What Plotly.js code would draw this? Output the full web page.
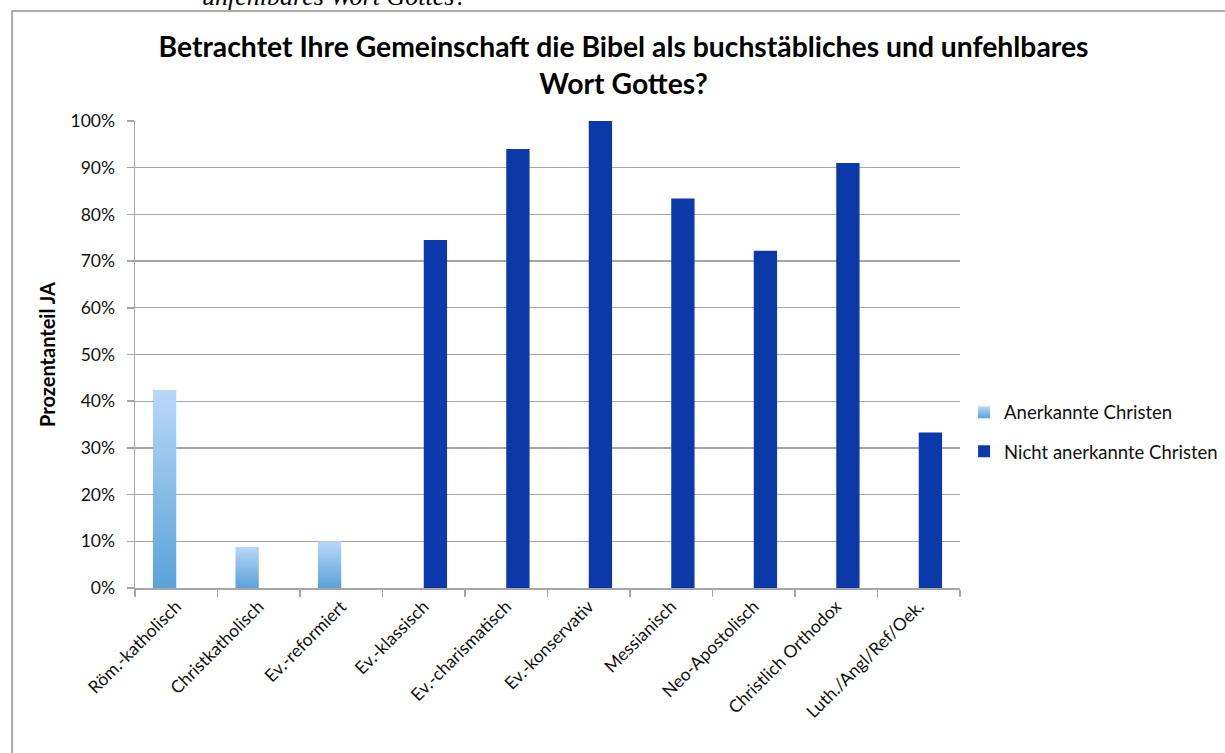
<!DOCTYPE html>
<html>
<head>
<meta charset="utf-8">
<script src="https://cdn.plot.ly/plotly-3.0.1.min.js"></script>
<style>
html,body{margin:0;padding:0;background:#fff;}
#chart{width:1225px;height:753px;}
</style>
</head>
<body>
<div id="chart"></div>
<script>
const categories = ["Röm.-katholisch","Christkatholisch","Ev.-reformiert","Ev.-klassisch","Ev.-charismatisch","Ev.-konservativ","Messianisch","Neo-Apostolisch","Christlich Orthodox","Luth./Angl/Ref/Oek."];
const anerkannt = [0.424, 0.088, 0.10, null, null, null, null, null, null, null];
const nichtAnerkannt = [null, null, null, 0.745, 0.94, 1.0, 0.834, 0.722, 0.91, 0.333];
const seriesNames = ["Anerkannte Christen","Nicht anerkannte Christen"];
const titleText = "Betrachtet Ihre Gemeinschaft die Bibel als buchstäbliches und unfehlbares<br>Wort Gottes?";
const yTitle = "Prozentanteil JA";
const cutText = "unfehlbares Wort Gottes?";

const font = "Lato, 'Open Sans', sans-serif";

const traces = [
  {type:"bar", name:seriesNames[0], legendgroup:"g1", x:categories, y:anerkannt, marker:{color:"#8DBFEC"}},
  {type:"bar", name:seriesNames[1], legendgroup:"g2", x:categories, y:nichtAnerkannt, marker:{color:"#0B39A9"}}
];

const layout = {
  width:1225, height:753,
  margin:{l:135, r:265, t:121, b:165},
  paper_bgcolor:"#fff", plot_bgcolor:"#fff",
  barmode:"group", bargap:0.435, bargroupgap:0,
  font:{family:font, size:17.5, color:"#111"},
  title:{text:titleText, x:0.509, xanchor:"center", y:0.924, yanchor:"middle",
         font:{family:font, size:28.3, color:"#000", weight:"bold"}},
  xaxis:{type:"category", tickangle:-45, showgrid:false, showline:true, linecolor:"#A6A6A6", linewidth:1.5,
         ticks:"outside", tickson:"boundaries", ticklen:7, tickcolor:"#A6A6A6", tickwidth:1.5,
         tickfont:{family:font, size:17.5, color:"#111"}},
  yaxis:{range:[0,1], tickformat:".0%", dtick:0.1, showgrid:true, gridcolor:"#A6A6A6", gridwidth:1.3,
         showline:true, linecolor:"#A6A6A6", linewidth:1.5, ticks:"outside", ticklen:7, tickcolor:"#A6A6A6", tickwidth:1.5,
         ticklabelstandoff:8,
         zeroline:false, tickfont:{family:font, size:17.5, color:"#111"},
         title:{text:yTitle, standoff:9, font:{family:font, size:20, color:"#000", weight:"bold"}}},
  legend:{xref:"container", yref:"container", x:0.787, xanchor:"left", y:0.426, yanchor:"middle",
          font:{family:font, size:18.5, color:"#111"}, tracegroupgap:12, itemwidth:30},
  showlegend:true,
  shapes:[{type:"rect", xref:"paper", yref:"paper", x0:-0.149, x1:1.6, y0:-0.6, y1:1.2355,
           line:{color:"#ABABAB", width:2}, fillcolor:"rgba(0,0,0,0)", layer:"below"}],
  annotations:[{text:cutText, xref:"paper", yref:"paper", x:0.079, xanchor:"left", y:1.266, yanchor:"middle",
                showarrow:false, font:{family:"'Liberation Serif', serif", size:26, color:"#000", style:"italic"}}]
};

Plotly.newPlot("chart", traces, layout, {displayModeBar:false, staticPlot:true}).then(function(gd){
  const svg = gd.querySelector("svg.main-svg");
  const ns = "http://www.w3.org/2000/svg";
  let defs = svg.querySelector("defs");
  if(!defs){defs = document.createElementNS(ns,"defs"); svg.insertBefore(defs, svg.firstChild);}
  const lg = document.createElementNS(ns,"linearGradient");
  lg.setAttribute("id","lightGrad");
  lg.setAttribute("x1","0"); lg.setAttribute("y1","0"); lg.setAttribute("x2","0"); lg.setAttribute("y2","1");
  [["0","#B9D8FA"],["1","#5AA2D9"]].forEach(function(s){
    const st = document.createElementNS(ns,"stop");
    st.setAttribute("offset",s[0]); st.setAttribute("stop-color",s[1]);
    lg.appendChild(st);
  });
  defs.appendChild(lg);
  const barTraces = gd.querySelectorAll(".barlayer .trace.bars");
  if(barTraces.length){
    barTraces[0].querySelectorAll("path").forEach(function(p){ p.style.fill = "url(#lightGrad)"; });
  }
  const legItems = gd.querySelectorAll(".legend .traces");
  if(legItems.length){
    legItems[0].querySelectorAll(".legendpoints path").forEach(function(p){ p.style.fill = "url(#lightGrad)"; });
  }
});
</script>
</body>
</html>
